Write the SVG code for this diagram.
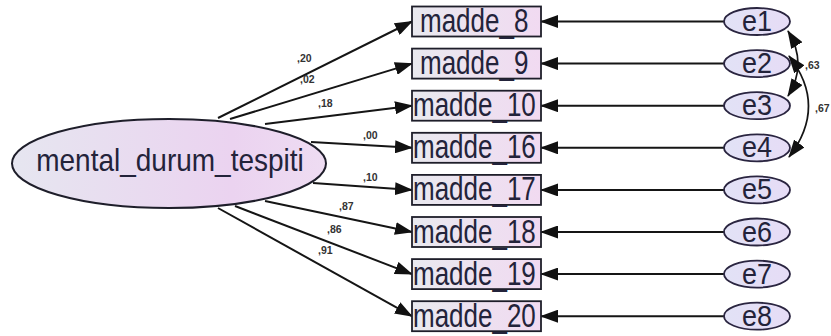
<svg xmlns="http://www.w3.org/2000/svg" width="831" height="336" viewBox="0 0 831 336">
<style>
.box{fill:url(#gb);stroke:#1e1e2a;stroke-width:1.8}
.ell{fill:url(#ge);stroke:#2a2540;stroke-width:1.8}
.lat{fill:url(#gl);stroke:#1e1e2a;stroke-width:2}
.t{font-family:"Liberation Sans",Arial,sans-serif;fill:#23233a}
.bt{font-size:26px}
.et{font-size:27px;text-anchor:middle}
.lt{font-size:28px;text-anchor:middle}
.pl{font-family:"Liberation Sans",Arial,sans-serif;font-size:10.5px;font-weight:bold;fill:#333}
.c{fill:none;stroke:#151515;stroke-width:2;marker-end:url(#ah)}
.cv{fill:none;stroke:#151515;stroke-width:1.7;marker-start:url(#ah)}
.cv2{fill:none;stroke:#151515;stroke-width:1.7;marker-end:url(#ah)}
</style>
<defs>
<linearGradient id="gb" x1="0" y1="0" x2="1" y2="0"><stop offset="0" stop-color="#e9e9ef"/><stop offset="1" stop-color="#f1daf1"/></linearGradient>
<linearGradient id="ge" x1="0" y1="0" x2="1" y2="0"><stop offset="0" stop-color="#e2e2f6"/><stop offset="1" stop-color="#e6dcf6"/></linearGradient>
<linearGradient id="gl" x1="0" y1="0" x2="1" y2="0"><stop offset="0" stop-color="#e6e6f0"/><stop offset="0.7" stop-color="#ebd3f0"/><stop offset="1" stop-color="#eedcf2"/></linearGradient>
<marker id="ah" markerUnits="userSpaceOnUse" markerWidth="18" markerHeight="13" refX="17" refY="6.5" orient="auto-start-reverse"><path d="M0,0 L18,6.5 L0,13 Z" fill="#111"/></marker>
</defs>
<g id="connectors">
<path class="c" d="M218,118 L412,21.5"/>
<path class="c" d="M230,119 L412,63.6"/>
<path class="c" d="M265,124 L412,105.7"/>
<path class="c" d="M311,142 L412,147.8"/>
<path class="c" d="M313,183 L412,189.9"/>
<path class="c" d="M265,201 L412,232"/>
<path class="c" d="M235,206 L412,274.1"/>
<path class="c" d="M218,208 L412,316.2"/>
<path class="c" d="M724,21.5 L541,21.5"/>
<path class="c" d="M724,63.6 L541,63.6"/>
<path class="c" d="M724,105.7 L541,105.7"/>
<path class="c" d="M724,147.8 L541,147.8"/>
<path class="c" d="M724,189.9 L541,189.9"/>
<path class="c" d="M724,232 L541,232"/>
<path class="c" d="M724,274.1 L541,274.1"/>
<path class="c" d="M724,316.2 L541,316.2"/>
<path class="cv" d="M788,31 Q808,64 788,96" marker-end="url(#ah)"/>
<path class="cv" d="M789,56 Q828,106 789,157" marker-end="url(#ah)"/>
<text class="pl" x="297" y="62">,20</text>
<text class="pl" x="300" y="83">,02</text>
<text class="pl" x="318" y="107">,18</text>
<text class="pl" x="363" y="139">,00</text>
<text class="pl" x="363" y="181">,10</text>
<text class="pl" x="339" y="210">,87</text>
<text class="pl" x="327" y="233">,86</text>
<text class="pl" x="318" y="254">,91</text>
<text class="pl" x="805" y="69">,63</text>
<text class="pl" x="815" y="112">,67</text>
</g>
<g id="latent">
<ellipse class="lat" cx="169" cy="163.5" rx="157" ry="44.5"/>
<text class="t lt" transform="translate(170,171) scale(1,1.15)">mental_durum_tespiti</text>
</g>
<g id="madde_8"><rect class="box" x="412" y="6.5" width="129" height="30"/><text class="t bt" transform="translate(420,32) scale(1,1.3)">madde_8</text></g>
<g id="madde_9"><rect class="box" x="412" y="48.6" width="129" height="30"/><text class="t bt" transform="translate(420,74.1) scale(1,1.3)">madde_9</text></g>
<g id="madde_10"><rect class="box" x="412" y="90.7" width="129" height="30"/><text class="t bt" transform="translate(413,116.2) scale(1,1.3)">madde_10</text></g>
<g id="madde_16"><rect class="box" x="412" y="132.8" width="129" height="30"/><text class="t bt" transform="translate(413,158.3) scale(1,1.3)">madde_16</text></g>
<g id="madde_17"><rect class="box" x="412" y="174.9" width="129" height="30"/><text class="t bt" transform="translate(413,200.4) scale(1,1.3)">madde_17</text></g>
<g id="madde_18"><rect class="box" x="412" y="217" width="129" height="30"/><text class="t bt" transform="translate(413,242.5) scale(1,1.3)">madde_18</text></g>
<g id="madde_19"><rect class="box" x="412" y="259.1" width="129" height="30"/><text class="t bt" transform="translate(413,284.6) scale(1,1.3)">madde_19</text></g>
<g id="madde_20"><rect class="box" x="412" y="301.2" width="129" height="30"/><text class="t bt" transform="translate(413,326.7) scale(1,1.3)">madde_20</text></g>
<g id="e1"><ellipse class="ell" cx="757" cy="21.5" rx="33" ry="13.5"/><text class="t et" transform="translate(757,31) scale(1,1.1)">e1</text></g>
<g id="e2"><ellipse class="ell" cx="757" cy="63.6" rx="33" ry="13.5"/><text class="t et" transform="translate(757,73.1) scale(1,1.1)">e2</text></g>
<g id="e3"><ellipse class="ell" cx="757" cy="105.7" rx="33" ry="13.5"/><text class="t et" transform="translate(757,115.2) scale(1,1.1)">e3</text></g>
<g id="e4"><ellipse class="ell" cx="757" cy="147.8" rx="33" ry="13.5"/><text class="t et" transform="translate(757,157.3) scale(1,1.1)">e4</text></g>
<g id="e5"><ellipse class="ell" cx="757" cy="189.9" rx="33" ry="13.5"/><text class="t et" transform="translate(757,199.4) scale(1,1.1)">e5</text></g>
<g id="e6"><ellipse class="ell" cx="757" cy="232" rx="33" ry="13.5"/><text class="t et" transform="translate(757,241.5) scale(1,1.1)">e6</text></g>
<g id="e7"><ellipse class="ell" cx="757" cy="274.1" rx="33" ry="13.5"/><text class="t et" transform="translate(757,283.6) scale(1,1.1)">e7</text></g>
<g id="e8"><ellipse class="ell" cx="757" cy="316.2" rx="33" ry="13.5"/><text class="t et" transform="translate(757,325.7) scale(1,1.1)">e8</text></g>
</svg>
